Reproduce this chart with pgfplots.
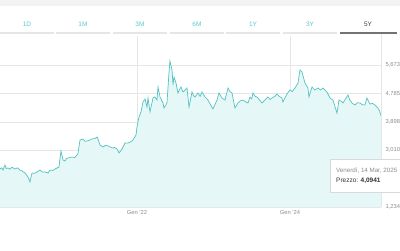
\documentclass[border=0pt]{standalone}
\usepackage{pgfplots}
\pgfplotsset{compat=1.18}
\usepackage{pgfplotstable}
\usepackage{fontspec}
\setmainfont{Liberation Sans}
\definecolor{tabteal}{HTML}{5CC8C8}
\definecolor{linec}{HTML}{55C2C2}
\definecolor{fillc}{HTML}{E5F7F7}
\definecolor{gridc}{HTML}{E4E6E8}
\definecolor{labc}{HTML}{8C8C8C}
\definecolor{bandc}{HTML}{F2F3F5}
\pgfplotstableread{
x y
2020.209 2.425
2020.230 2.460
2020.248 2.393
2020.262 2.480
2020.274 2.550
2020.290 2.440
2020.314 2.456
2020.340 2.420
2020.366 2.487
2020.385 2.450
2020.405 2.425
2020.440 2.460
2020.470 2.393
2020.500 2.360
2020.536 2.299
2020.575 2.174
2020.601 2.017
2020.627 2.299
2020.660 2.290
2020.693 2.331
2020.732 2.393
2020.760 2.330
2020.797 2.331
2020.837 2.299
2020.863 2.393
2020.900 2.380
2020.928 2.425
2020.980 2.487
2021.006 2.989
2021.033 2.707
2021.059 2.675
2021.080 2.760
2021.098 2.769
2021.150 2.801
2021.185 2.780
2021.216 2.863
2021.229 2.926
2021.255 3.333
2021.294 3.365
2021.320 3.290
2021.346 3.302
2021.380 3.330
2021.412 3.365
2021.450 3.380
2021.477 3.427
2021.490 3.365
2021.516 3.177
2021.556 3.114
2021.590 3.170
2021.621 3.145
2021.655 3.110
2021.686 3.083
2021.710 3.100
2021.739 3.051
2021.765 2.926
2021.804 3.051
2021.843 3.239
2021.882 3.239
2021.920 3.280
2021.948 3.333
2021.987 3.490
2022.000 3.741
2022.026 4.054
2022.052 4.211
2022.078 4.524
2022.105 4.618
2022.131 4.367
2022.144 4.649
2022.170 4.211
2022.209 4.649
2022.235 4.681
2022.261 4.587
2022.275 4.994
2022.301 4.681
2022.340 4.493
2022.353 4.336
2022.392 4.493
2022.418 5.433
2022.431 5.809
2022.458 5.527
2022.471 5.057
2022.484 5.307
2022.510 5.119
2022.536 4.806
2022.555 4.900
2022.575 4.994
2022.601 4.837
2022.630 4.900
2022.654 4.963
2022.680 4.367
2022.719 4.837
2022.740 4.720
2022.758 4.681
2022.797 4.806
2022.825 4.700
2022.850 4.837
2022.889 4.681
2022.928 4.587
2022.993 4.305
2023.046 4.587
2023.072 4.806
2023.111 4.649
2023.150 4.587
2023.190 4.963
2023.215 4.850
2023.242 4.806
2023.281 4.336
2023.320 4.493
2023.350 4.560
2023.386 4.587
2023.420 4.530
2023.451 4.493
2023.477 4.681
2023.500 4.620
2023.516 4.806
2023.545 4.700
2023.569 4.681
2023.634 4.493
2023.673 4.587
2023.712 4.681
2023.740 4.600
2023.765 4.649
2023.800 4.700
2023.830 4.775
2023.860 4.700
2023.895 4.649
2023.908 4.524
2023.961 4.775
2024.000 4.900
2024.030 4.850
2024.065 4.963
2024.105 5.119
2024.131 5.527
2024.157 5.464
2024.196 5.119
2024.235 4.963
2024.248 4.681
2024.288 4.994
2024.327 4.900
2024.366 4.963
2024.400 4.900
2024.431 4.963
2024.484 4.837
2024.523 4.649
2024.562 4.587
2024.614 4.179
2024.641 4.587
2024.670 4.550
2024.693 4.493
2024.758 4.743
2024.780 4.600
2024.810 4.493
2024.850 4.430
2024.880 4.500
2024.915 4.493
2024.945 4.440
2024.980 4.430
2025.006 4.649
2025.046 4.461
2025.080 4.480
2025.111 4.430
2025.150 4.336
2025.170 4.250
2025.190 4.094
}\data
\begin{document}
\begin{tikzpicture}[x=1pt,y=1pt]
\useasboundingbox (0,-43) rectangle (400,207);
% top band
\fill[bandc] (0,201) rectangle (400,207);
% tabs
\foreach \lab/\cx in {1D/27,1M/83,3M/140,6M/197,1Y/253,3Y/310}{
  \node[text=tabteal,font=\fontsize{6.5}{7}\selectfont] at (\cx,183) {\lab};
}
\node[text=black!75,font=\fontsize{6.5}{7}\selectfont] at (368,183) {5Y};
\foreach \a/\b in {0/54,56/110,113/167,170/224,226/280,283/337}{
  \draw[gridc,line width=1.2pt] (\a,174) -- (\b,174);
}
\draw[black!55,line width=1.4pt] (340,174) -- (397,174);
\begin{axis}[
  at={(0,0)}, anchor=south west,
  scale only axis, width=381pt, height=171pt,
  xmin=2020.209, xmax=2025.19,
  ymin=1.234, ymax=6.592,
  axis line style={draw=none},
  xtick={2022,2024}, xticklabels={Gen '22,Gen '24},
  ytick={1.234,2.122,3.010,3.898,4.785,5.673},
  yticklabels={1{,}234,2{,}122,3{,}010,3{,}898,4{,}785,5{,}673},
  yticklabel pos=right,
  ymajorgrids, xmajorgrids,
  grid style={gridc,line width=0.9pt},
  major tick length=0pt,
  tick label style={text=labc,font=\fontsize{5.8}{6}\selectfont},
  yticklabel style={anchor=west,xshift=1pt},
  xticklabel style={yshift=0pt},
  clip=false,
]
\addplot[draw=none,fill=fillc] table[x=x,y=y] {\data} \closedcycle;
\addplot[linec,line width=0.7pt] table[x=x,y=y] {\data};
\end{axis}
\draw[gridc,line width=0.9pt] (381,0) -- (381,173);
% tooltip
\draw[black!15,fill=white,line width=0.6pt] (330,15) rectangle (402,48);
\node[anchor=west,text=labc,font=\fontsize{6.2}{7}\selectfont,inner sep=0pt] at (336,36) {Venerdì, 14 Mar, 2025};
\node[anchor=west,text=black!80,font=\fontsize{6.5}{7}\selectfont,inner sep=0pt] at (336,26) {Prezzo: \textbf{4,0941}};
\end{tikzpicture}
\end{document}
